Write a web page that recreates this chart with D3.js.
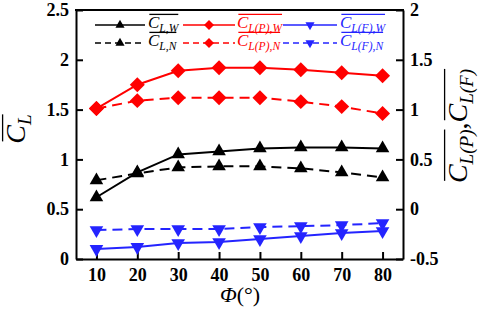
<!DOCTYPE html>
<html>
<head>
<meta charset="utf-8">
<script src="https://cdn.jsdelivr.net/npm/d3@7"></script>
<style>
body { margin: 0; background: #fff; }
</style>
</head>
<body>
<script>
var w = 484, h = 313;
var serif = "'Liberation Serif', 'Times New Roman', serif";

// data
var phi = [10, 20, 30, 40, 50, 60, 70, 80];
var clW = [0.62, 0.87, 1.05, 1.08, 1.11, 1.12, 1.12, 1.11];
var clN = [0.79, 0.86, 0.92, 0.93, 0.93, 0.91, 0.87, 0.82];
var clpW = [1.01, 1.25, 1.39, 1.42, 1.42, 1.40, 1.37, 1.34];
var clpN = [1.01, 1.09, 1.12, 1.12, 1.12, 1.08, 1.03, 0.96];
var clfW = [-0.40, -0.38, -0.34, -0.33, -0.30, -0.27, -0.24, -0.22];
var clfN = [-0.21, -0.20, -0.20, -0.20, -0.18, -0.17, -0.16, -0.14];

var leftTicks = [0, 0.5, 1, 1.5, 2, 2.5];
var rightTicks = [-0.5, 0, 0.5, 1, 1.5, 2];

var red = "#ff0000", blue = "#2424ff";

var series = [
  {vals: clW, axis: "L", color: "#000", dash: null, shape: "up", sub: "L,W"},
  {vals: clN, axis: "L", color: "#000", dash: "10,6", shape: "up", sub: "L,N"},
  {vals: clpW, axis: "R", color: red, dash: null, shape: "diamond", sub: "L(P),W"},
  {vals: clpN, axis: "R", color: red, dash: "10,6", shape: "diamond", sub: "L(P),N"},
  {vals: clfW, axis: "R", color: blue, dash: null, shape: "down", sub: "L(F),W"},
  {vals: clfN, axis: "R", color: blue, dash: "10,6", shape: "down", sub: "L(F),N"}
];

var x0p = 76, x1p = 403, y0p = 10, y1p = 259;

var svg = d3.select("body").append("svg")
  .attr("width", w)
  .attr("height", h);

var x = d3.scaleLinear().domain([5, 85]).range([x0p, x1p]);
var yL = d3.scaleLinear().domain([0, 2.5]).range([y1p, y0p]);
var yR = d3.scaleLinear().domain([-0.5, 2]).range([y1p, y0p]);

function styleAxis(g) {
  g.selectAll("path").attr("stroke", "#000").attr("stroke-width", 2);
  g.selectAll("line").attr("stroke", "#000").attr("stroke-width", 2);
  g.selectAll("text").attr("font-family", serif).attr("font-weight", "bold")
    .attr("font-size", 18).attr("fill", "#000");
}

svg.append("g")
  .attr("transform", "translate(0," + y1p + ")")
  .call(d3.axisBottom(x).tickValues(phi).tickSizeInner(-7).tickSizeOuter(0).tickPadding(9))
  .call(styleAxis);

svg.append("g")
  .attr("transform", "translate(" + x0p + ",0)")
  .call(d3.axisLeft(yL).tickValues(leftTicks).tickFormat(function(d) { return d; })
    .tickSizeInner(-7).tickSizeOuter(0).tickPadding(7))
  .call(styleAxis);

svg.append("g")
  .attr("transform", "translate(" + x1p + ",0)")
  .call(d3.axisRight(yR).tickValues(rightTicks).tickFormat(function(d) { return d; })
    .tickSizeInner(-7).tickSizeOuter(0).tickPadding(7))
  .call(styleAxis);

// top frame
svg.append("line")
  .attr("x1", x0p - 1).attr("x2", x1p + 1)
  .attr("y1", y0p).attr("y2", y0p)
  .attr("stroke", "#000").attr("stroke-width", 2);

function markerPath(shape, s) {
  if (shape == "diamond") return d3.symbol().type(d3.symbolSquare).size(s * 1.4)();
  return d3.symbol().type(d3.symbolTriangle).size(s)();
}
function markerRot(shape) {
  if (shape == "diamond") return 45;
  if (shape == "down") return 180;
  return 0;
}

series.forEach(function(s) {
  var yy = s.axis == "L" ? yL : yR;
  var line = d3.line()
    .x(function(d, i) { return x(phi[i]); })
    .y(function(d) { return yy(d); });

  svg.append("path")
    .attr("d", line(s.vals))
    .attr("fill", "none")
    .attr("stroke", s.color)
    .attr("stroke-width", 2)
    .attr("stroke-dasharray", s.dash);

  svg.append("g").selectAll("path")
    .data(s.vals)
    .enter().append("path")
    .attr("d", markerPath(s.shape, 80))
    .attr("transform", function(d, i) {
      return "translate(" + x(phi[i]) + "," + yy(d) + ") rotate(" + markerRot(s.shape) + ")";
    })
    .attr("fill", s.color);
});

// C with subscript and an overline over the whole thing
function overText(g, tx, ty, fs, sub, color) {
  var t = g.append("text")
    .attr("x", tx).attr("y", ty)
    .attr("font-family", serif)
    .attr("font-style", "italic")
    .attr("font-size", fs)
    .attr("fill", color);
  t.append("tspan").text("C");
  t.append("tspan").attr("font-size", fs * 0.68).attr("dy", fs * 0.22).text(sub);
  var tw = t.node().getComputedTextLength();
  g.append("line")
    .attr("x1", tx + fs * 0.08).attr("x2", tx + tw)
    .attr("y1", ty - fs * 0.8).attr("y2", ty - fs * 0.8)
    .attr("stroke", color).attr("stroke-width", 1.3);
  return tw;
}

// legend
var legX = [[95, 145, 148], [183, 235, 237], [283, 337, 340]];
var legY = [25, 43];
series.forEach(function(s, i) {
  var col = Math.floor(i / 2), row = i % 2;
  var p = legX[col], ly = legY[row];
  var g = svg.append("g");
  g.append("line")
    .attr("x1", p[0]).attr("x2", p[1])
    .attr("y1", ly).attr("y2", ly)
    .attr("stroke", s.color).attr("stroke-width", 1.5)
    .attr("stroke-dasharray", s.dash ? "6,4" : null);
  g.append("path")
    .attr("d", markerPath(s.shape, 36))
    .attr("transform", "translate(" + (p[0] + p[1]) / 2 + "," + ly + ") rotate(" + markerRot(s.shape) + ")")
    .attr("fill", s.color);
  overText(g, p[2], ly + 3, 17, s.sub, s.color);
});

// axis titles
var gl = svg.append("g").attr("transform", "translate(25,129) rotate(-90)");
var lw = overText(gl, 0, 0, 28, "L", "#000");
gl.selectAll("*").attr("transform", "translate(" + (-lw / 2) + ",0)");

var gr = svg.append("g").attr("transform", "translate(467,126) rotate(-90)");
var w1 = overText(gr, 0, 0, 28, "L(P)", "#000");
var comma = gr.append("text")
  .attr("x", w1).attr("y", 0)
  .attr("font-family", serif).attr("font-size", 28)
  .text(", ");
var cw = comma.node().getComputedTextLength();
var w2 = overText(gr, w1 + cw, 0, 28, "L(F)", "#000");
gr.selectAll("*").attr("transform", "translate(" + (-(w1 + cw + w2) / 2) + ",0)");

var xt = svg.append("text")
  .attr("x", 240).attr("y", 302)
  .attr("text-anchor", "middle")
  .attr("font-family", serif)
  .attr("font-size", 22);
xt.append("tspan").attr("font-style", "italic").text("Φ");
xt.append("tspan").text("(°)");
</script>
</body>
</html>
